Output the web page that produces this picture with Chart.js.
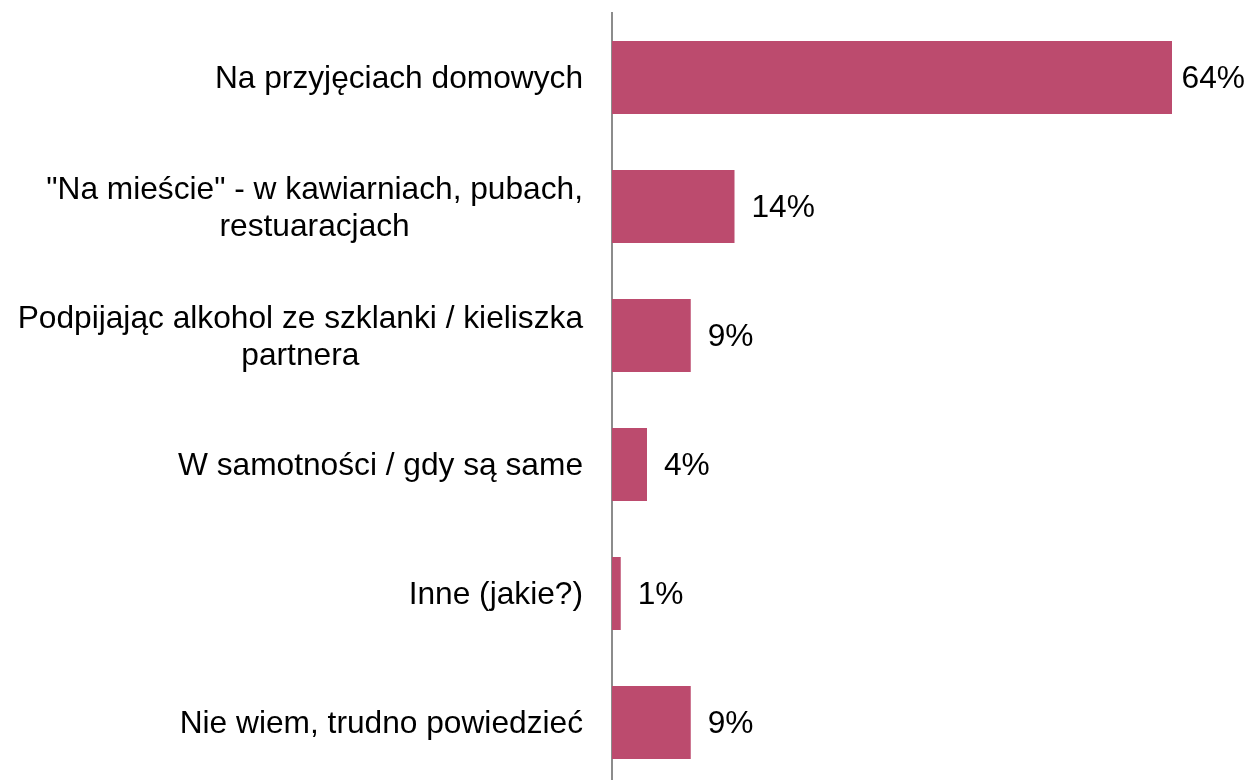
<!DOCTYPE html>
<html>
<head>
<meta charset="utf-8">
<script src="https://cdn.jsdelivr.net/npm/chart.js@4/dist/chart.umd.min.js"></script>
<style>
  html, body { margin: 0; padding: 0; background: #ffffff; overflow: hidden; }
  #wrap { width: 1248px; height: 788px; }
</style>
</head>
<body>
<div id="wrap"><canvas id="c" width="1248" height="788"></canvas></div>
<script>
const categories = [
  ['Na przyjęciach domowych'],
  ['"Na mieście" - w kawiarniach, pubach,', 'restuaracjach'],
  ['Podpijając alkohol ze szklanki / kieliszka', 'partnera'],
  ['W samotności / gdy są same'],
  ['Inne (jakie?)'],
  ['Nie wiem, trudno powiedzieć']
];
const values = [64, 14, 9, 4, 1, 9];
const valueLabels = ['64%', '14%', '9%', '4%', '1%', '9%'];

const FONT = '31.7px "Liberation Sans", Arial, sans-serif';
const LINE_H = 36.6;
const LABEL_GAP = 29;
const VALUE_GAP = 17;
const TEXT_DY = 2;

const labelPlugin = {
  id: 'labelPlugin',
  afterDraw(chart) {
    const ctx = chart.ctx;
    const yScale = chart.scales.y;
    const area = chart.chartArea;
    ctx.save();
    ctx.font = FONT;
    ctx.fillStyle = '#000000';
    ctx.textBaseline = 'middle';
    categories.forEach((lines, i) => {
      const cy = yScale.getPixelForValue(i) + TEXT_DY;
      const w = Math.max(...lines.map(l => ctx.measureText(l).width));
      const cx = area.left - LABEL_GAP - w / 2;
      ctx.textAlign = 'center';
      lines.forEach((l, j) => {
        ctx.fillText(l, cx, cy + (j - (lines.length - 1) / 2) * LINE_H);
      });
    });
    const meta = chart.getDatasetMeta(0);
    ctx.textAlign = 'left';
    meta.data.forEach((bar, i) => {
      const t = valueLabels[i];
      const tw = ctx.measureText(t).width;
      let tx = bar.x + VALUE_GAP;
      tx = Math.min(tx, chart.width - tw - 3);
      ctx.fillText(t, tx, bar.y + TEXT_DY);
    });
    ctx.restore();
  }
};

new Chart(document.getElementById('c'), {
  type: 'bar',
  data: {
    labels: categories,
    datasets: [{
      data: values,
      backgroundColor: '#bc4b6e',
      borderWidth: 0,
      barPercentage: 0.566,
      categoryPercentage: 1.0
    }]
  },
  options: {
    indexAxis: 'y',
    responsive: false,
    animation: false,
    devicePixelRatio: 1,
    layout: { padding: { top: 13, bottom: 1, left: 0, right: 6 } },
    plugins: {
      legend: { display: false },
      tooltip: { enabled: false }
    },
    scales: {
      x: {
        display: false,
        min: 0,
        max: 72
      },
      y: {
        grid: { display: false },
        border: { display: true, color: '#8c8c8c', width: 2 },
        ticks: { display: false },
        afterFit(scale) { scale.width = 612; }
      }
    }
  },
  plugins: [labelPlugin]
});
</script>
</body>
</html>
